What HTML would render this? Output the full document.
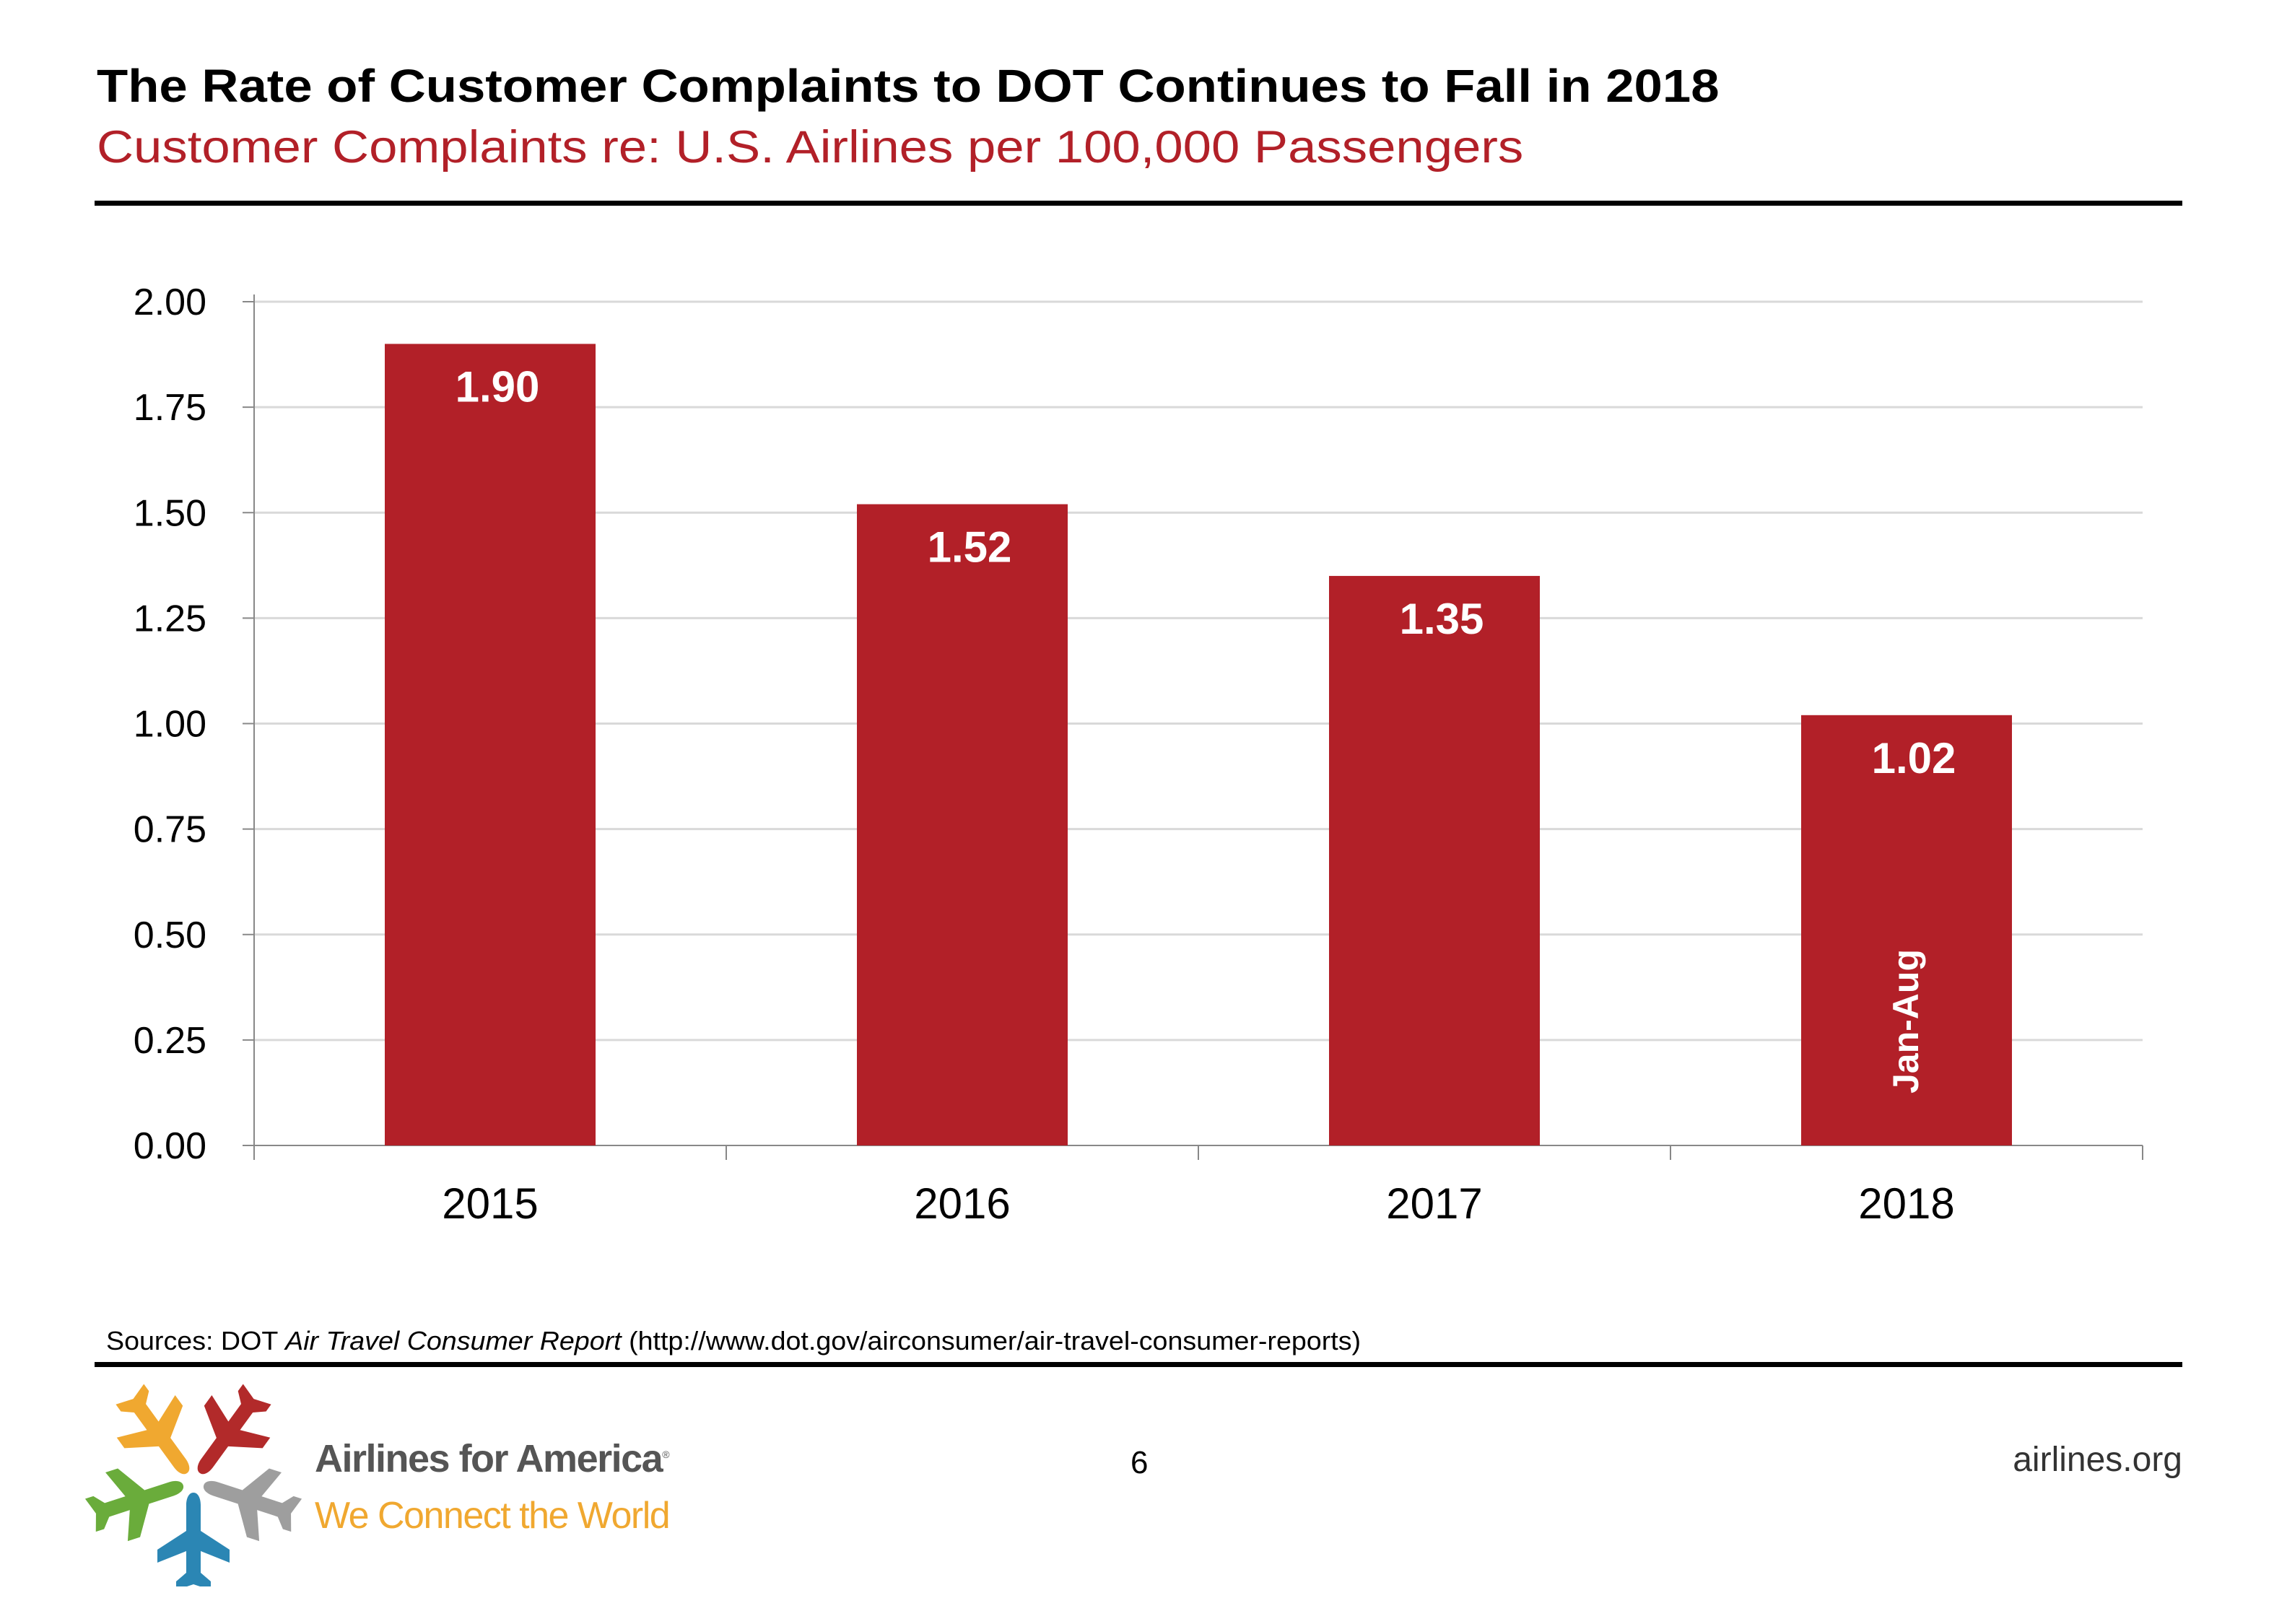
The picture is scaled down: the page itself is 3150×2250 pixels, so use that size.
<!DOCTYPE html>
<html><head><meta charset="utf-8"><style>
body{margin:0;background:#fff;}
#root{position:relative;width:3150px;height:2250px;overflow:hidden;font-family:"Liberation Sans",Arial,sans-serif;}
.t{position:absolute;white-space:nowrap;transform-origin:0 0;}
</style></head><body>
<div id="root">
<div class="t" style="left:134px;top:82px;font-size:64px;font-weight:bold;color:#000;transform:scaleX(1.105);">The Rate of Customer Complaints to DOT Continues to Fall in 2018</div>
<div class="t" style="left:134px;top:168px;font-size:63px;color:#b22028;transform:scaleX(1.122);">Customer Complaints re: U.S. Airlines per 100,000 Passengers</div>
<div style="position:absolute;left:131px;top:278px;width:2892px;height:7px;background:#000;"></div>
<svg id="chart" width="3150" height="1800" style="position:absolute;left:0;top:0;" font-family="Liberation Sans, Arial, sans-serif"></svg>
<div class="t" style="left:147px;top:1837px;font-size:36px;color:#000;transform:scaleX(1.045);">Sources: DOT <i>Air Travel Consumer Report</i> (http://www.dot.gov/airconsumer/air-travel-consumer-reports)</div>
<div style="position:absolute;left:131px;top:1887px;width:2892px;height:7px;background:#000;"></div>
<svg width="300" height="290" style="position:absolute;left:118px;top:1908px;" viewBox="-150 -145 300 290">
<g id="planes"></g>
</svg>
<div class="t" style="left:436px;top:1990px;font-size:54px;font-weight:bold;color:#555;letter-spacing:-1.5px;">Airlines for America<sup style="font-size:14px;font-weight:normal;">®</sup></div>
<div class="t" style="left:436px;top:2070px;font-size:52px;color:#f0a830;letter-spacing:-1.5px;">We Connect the World</div>
<div class="t" style="left:1566px;top:2002px;font-size:44px;color:#000;">6</div>
<div class="t" style="right:127px;top:1995px;font-size:48px;color:#333;">airlines.org</div>
</div>
<script>
const categories=["2015","2016","2017","2018"];
const values=[1.90,1.52,1.35,1.02];
const valueLabels=["1.90","1.52","1.35","1.02"];
const yTicks=[0,0.25,0.5,0.75,1.0,1.25,1.5,1.75,2.0];
const yTickLabels=["0.00","0.25","0.50","0.75","1.00","1.25","1.50","1.75","2.00"];
const NS="http://www.w3.org/2000/svg";
const svg=document.getElementById('chart');
const X0=352,X1=2968,Y0=1587,Y1=418,YMAX=2;
const bw=(X1-X0)/categories.length, barW=292;
const y=v=>Y0-(v/YMAX)*(Y0-Y1);
const xc=i=>X0+bw*(i+0.5);
function mk(tag,attrs){const e=document.createElementNS(NS,tag);for(const k in attrs)e.setAttribute(k,attrs[k]);svg.appendChild(e);return e;}
yTicks.forEach((v,i)=>{
  if(v>0){const g=mk('line',{x1:X0,x2:X1,y1:y(v),y2:y(v),stroke:'#d9d9d9','stroke-width':3});
  
  }
  const tk=mk('line',{x1:336,x2:X0,y1:y(v),y2:y(v),stroke:'#888','stroke-width':2});
  
  
  const t=mk('text',{x:286,y:y(v)+18,'text-anchor':'end','font-size':52,fill:'#000'});
  t.textContent=yTickLabels[i];
  
  
});
const ax=mk('line',{x1:X0,x2:X0,y1:Y1-10,y2:Y0,stroke:'#888','stroke-width':2});


const xa=mk('line',{x1:X0,x2:X1,y1:Y0,y2:Y0,stroke:'#888','stroke-width':2});


for(let i=0;i<=categories.length;i++){
  const t=mk('line',{x1:X0+bw*i,x2:X0+bw*i,y1:Y0,y2:Y0+20,stroke:'#888','stroke-width':2});
  
  
}
categories.forEach((c,i)=>{
  const r=mk('rect',{x:xc(i)-barW/2,y:y(values[i]),width:barW,height:Y0-y(values[i]),fill:'#b22028'});
  
  
  const l=mk('text',{x:xc(i)+10,y:y(values[i])+80,'text-anchor':'middle','font-size':60,'font-weight':'bold',fill:'#fff'});
  l.textContent=valueLabels[i];
  
  
  const xl=mk('text',{x:xc(i),y:1688,'text-anchor':'middle','font-size':60,fill:'#000'});
  xl.textContent=c;
  
  
});
const ja=mk('text',{x:0,y:0,'text-anchor':'middle','font-size':50,'font-weight':'bold',fill:'#fff',transform:`translate(${xc(3)+16},1415) rotate(-90)`});
ja.textContent='Jan-Aug';


// logo planes
const pg=document.getElementById('planes');
const cols=['#2b86b4','#6aac3b','#f0a830','#b22a2a','#9e9e9e'];
const planeD="M0,-75 C7,-75 10,-66 10,-58 L10,-22 L50,4 L50,22 L10,6 L10,36 L24,48 L24,60 L0,52 L-24,60 L-24,48 L-10,36 L-10,6 L-50,22 L-50,4 L-10,-22 L-10,-58 C-10,-66 -7,-75 0,-75Z";
cols.forEach((c,i)=>{
  const p=document.createElementNS(NS,'path');
  p.setAttribute('d',planeD);
  p.setAttribute('fill',c);
  p.setAttribute('transform',`rotate(${i*72}) translate(0,90) scale(1.0)`);
  
  
  pg.appendChild(p);
});
</script>
</body></html>
